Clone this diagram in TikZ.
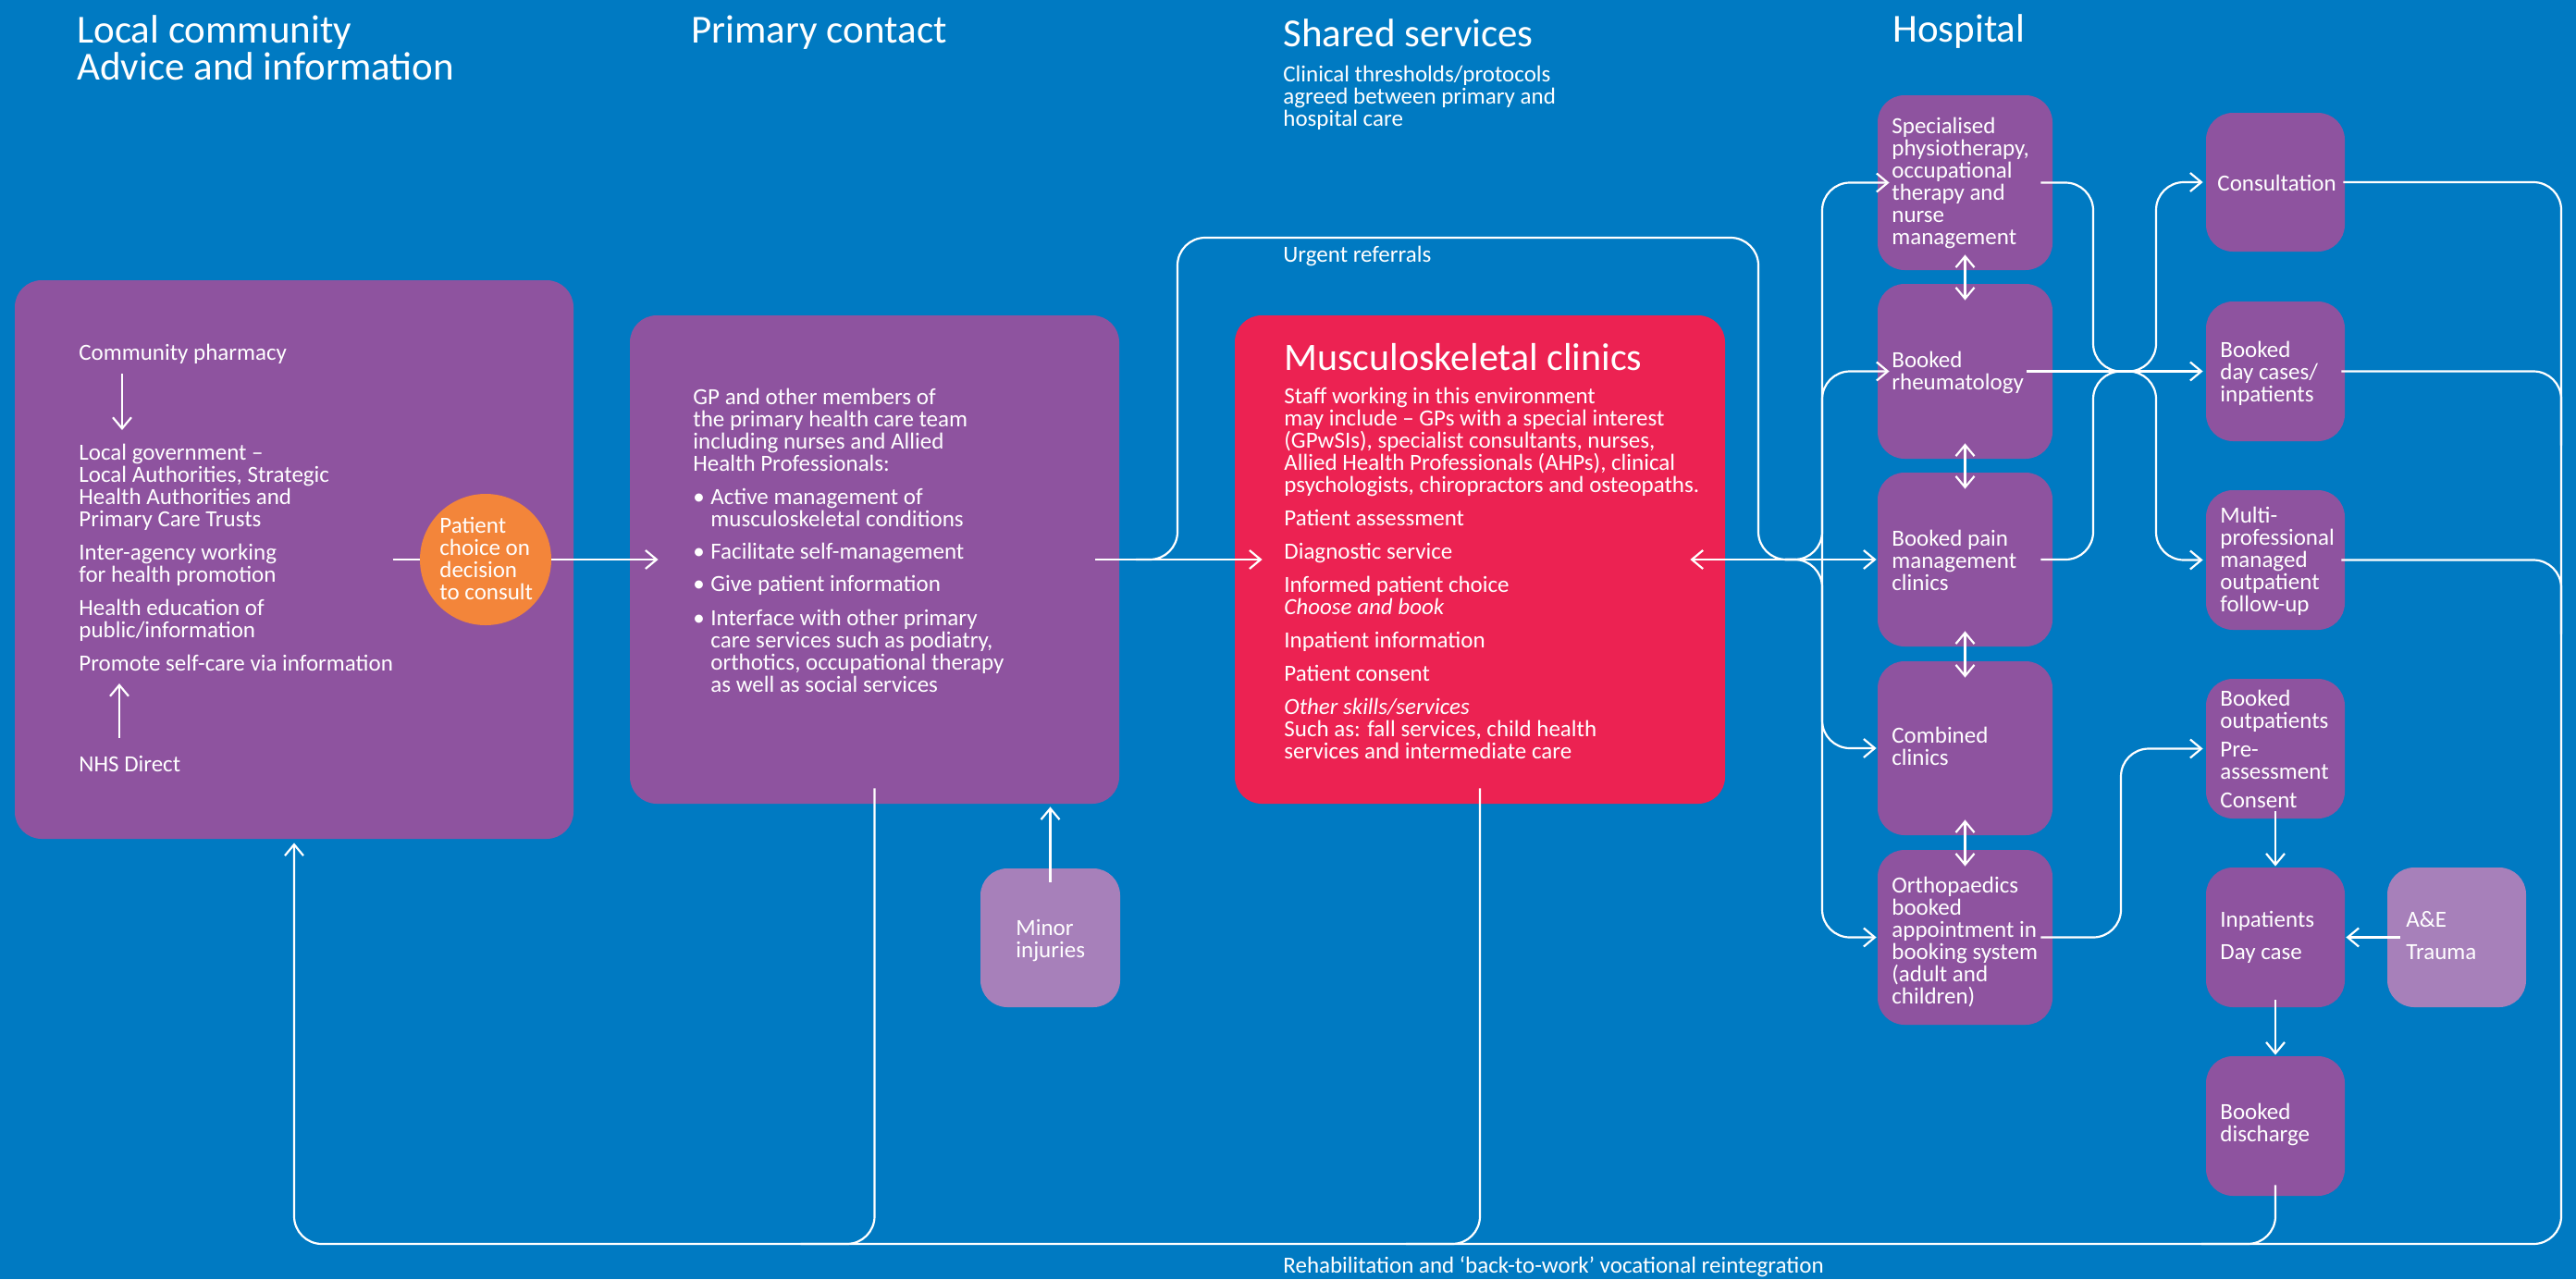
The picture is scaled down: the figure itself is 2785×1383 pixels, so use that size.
\documentclass[tikz,border=0pt]{standalone}
\usepackage{fontspec}
\setmainfont{Carlito}
\usetikzlibrary{arrows.meta,calc,fit}
\definecolor{bgblue}{RGB}{0,122,194}
\definecolor{mpurple}{RGB}{142,83,159}
\definecolor{lpurple}{RGB}{167,128,186}
\definecolor{mred}{RGB}{236,34,82}
\definecolor{morange}{RGB}{243,133,58}
\newcommand\blk[1]{\parbox[t]{300pt}{\raggedright\lineskiplimit=-20pt\lineskip=0pt #1}}
\newcommand\mybul{\makebox[9.5pt][l]{•}}
\newcommand\myind{\hspace*{9.5pt}}
\begin{document}
\begin{tikzpicture}[x=0.5pt,y=-0.5pt,
  pbox/.style={fill=mpurple, rounded corners=14.5pt, inner sep=0pt, draw=none},
  lbox/.style={pbox, fill=lpurple},
  rbox/.style={pbox, fill=mred},
  wline/.style={draw=white, line width=1.1pt},
  rl/.style={wline, rounded corners=15pt},
  warr/.style={wline, -{Straight Barb[length=6pt,width=10pt]}},
  wdarr/.style={wline, {Straight Barb[length=6pt,width=10pt]}-{Straight Barb[length=6pt,width=10pt]}},
  txt/.style={anchor=base west, inner sep=0pt, text=white, font=\fontsize{12.5}{12}\selectfont},
  ttl/.style={txt, font=\fontsize{21.5}{20}\selectfont},
]
\useasboundingbox (0,0) rectangle (2785,1383);
\fill[bgblue] (0,0) rectangle (2785,1383);

% boxes
\node[pbox, fit={(16,303) (620,907)}] (loc) {};
\node[pbox, fit={(681,341) (1210,869)}] (prim) {};
\node[rbox, fit={(1335,341) (1865,869)}] (msk) {};
\node[lbox, fit={(1060,939) (1211,1089)}] (minor) {};
\node[pbox, fit={(2030,103) (2219,292)}] (spec) {};
\node[pbox, fit={(2030,307) (2219,496)}] (rheum) {};
\node[pbox, fit={(2030,511) (2219,699)}] (pain) {};
\node[pbox, fit={(2030,715) (2219,903)}] (comb) {};
\node[pbox, fit={(2030,919) (2219,1108)}] (ortho) {};
\node[pbox, fit={(2385,122) (2535,272)}] (cons) {};
\node[pbox, fit={(2385,326) (2535,477)}] (day) {};
\node[pbox, fit={(2385,530) (2535,681)}] (multi) {};
\node[pbox, fit={(2385,734) (2535,885)}] (outp) {};
\node[pbox, fit={(2385,938) (2535,1089)}] (inp) {};
\node[pbox, fit={(2385,1142) (2535,1293)}] (disc) {};
\node[lbox, fit={(2581,938) (2731,1089)}] (ae) {};

% connectors
\node[circle, fill=morange, minimum size=71pt, inner sep=0pt] (choice) at (525,605) {};
\draw[wline] ($(choice.west)+(-29,0)$) -- (choice.west);
\draw[warr] (choice.east) -- ($(prim.west)+(31,0)$);
\draw[warr] ($(prim.east)+(-26,0)$) -- ($(msk.west)+(30,0)$);

\coordinate (u1) at (1273,257);
\coordinate (u2) at (1901,257);
\draw[rl] ($(u1 |- prim.east)+(-45,0)$) -- (u1 |- prim.east) -- (u1) -- (u2) -- (u2 |- msk.east) -- ++(45,0);

\coordinate (hb) at (1970,605);
\draw[wdarr] ($(msk.east)+(-38,0)$) -- ($(pain.west)+(-1,0)$);
\draw[rl,warr] ($(hb)+(-40,0)$) -- (hb) -- (hb |- spec.west) -- ($(spec.west)+(13,0)$);
\draw[rl,warr] (hb) -- (hb |- rheum.west) -- ($(rheum.west)+(13,0)$);
\draw[rl,warr] ($(hb)+(-40,0)$) -- (hb) -- (hb |- ortho.west) -- ($(ortho.west)+(-1,0)$);
\draw[rl,warr] (hb) -- (hb |- comb.west) -- ($(comb.west)+(-1,0)$);

\draw[wdarr] ($(spec.south)+(0,-17)$) -- ($(rheum.north)+(0,18)$);
\draw[wdarr] ($(rheum.south)+(0,-17)$) -- ($(pain.north)+(0,18)$);
\draw[wdarr] ($(pain.south)+(0,-17)$) -- ($(comb.north)+(0,18)$);
\draw[wdarr] ($(comb.south)+(0,-17)$) -- ($(ortho.north)+(0,18)$);

\coordinate (xl) at (2263,0);
\coordinate (xr) at (2331,0);
\coordinate (xo) at (2293,0);
\draw[rl,warr] ($(spec.east)+(-13,0)$) -- (spec.east -| xl) -- (xl |- rheum.east) -- (xr |- rheum.east) -- (xr |- multi.west) -- ($(multi.west)+(-3,0)$);
\draw[rl,warr] ($(pain.east)+(-13,0)$) -- (pain.east -| xl) -- (xl |- rheum.east) -- (xr |- rheum.east) -- (xr |- cons.west) -- ($(cons.west)+(-3,0)$);
\draw[warr] ($(rheum.east)+(-28,0)$) -- ($(day.west)+(-3,0)$);
\draw[rl,warr] ($(ortho.east)+(-13,0)$) -- (ortho.east -| xo) -- (xo |- outp.west) -- ($(outp.west)+(-3,0)$);

\coordinate (rb) at (2769,0);
\coordinate (bt) at (0,1345);
\draw[rl,warr] ($(cons.east)+(-2,0)$) -- (cons.east -| rb) -- (rb |- bt) -- (loc.south |- bt) -- ($(loc.south)+(0,4)$);
\draw[rl] ($(day.east)+(-4,0)$) -- (day.east -| rb) -- ++(0,80);
\draw[rl] ($(multi.east)+(-4,0)$) -- (multi.east -| rb) -- ++(0,80);
\draw[rl] ($(prim.south)+(0,-17)$) -- (prim.south |- bt) -- ++(-80,0);
\draw[rl] ($(msk.south)+(0,-17)$) -- (msk.south |- bt) -- ++(-80,0);
\draw[rl] ($(disc.south)+(0,-12)$) -- (disc.south |- bt) -- ++(-80,0);

\draw[warr] ($(minor.north)+(0,15)$) -- ($(minor.north |- prim.south)+(0,3)$);
\draw[warr] ($(outp.south)+(0,-8)$) -- ($(inp.north)+(0,-1)$);
\draw[warr] ($(inp.south)+(0,-8)$) -- ($(disc.north)+(0,-1)$);
\draw[warr] ($(ae.west)+(14,0)$) -- ($(inp.east)+(1,0)$);

% titles
\node[ttl] (tloc) at (83,46) {\blk{Local community\\Advice and information}};
\node[ttl] (tprim) at (747,46) {Primary contact};
\node[ttl] (tsh) at (1387,50) {Shared services};
\node[txt] (tclin) at (1387,88) {\blk{Clinical thresholds/protocols\\agreed between primary and\\hospital care}};
\node[ttl] (thosp) at (2046,45) {Hospital};
\node[txt] (turg) at (1387,283) {Urgent referrals};
\node[txt] (trehab) at (1387,1376) {Rehabilitation and ‘back-to-work’ vocational reintegration};

% local box
\node[txt] (cp) at (85,389) {Community pharmacy};
\node[txt] (lg) at (85,497) {\blk{Local government –\\Local Authorities, Strategic\\Health Authorities and\\Primary Care Trusts\\[6pt]Inter-agency working\\for health promotion\\[6pt]Health education of\\public/information\\[6pt]Promote self-care via information}};
\node[txt] (nhs) at (85,834) {NHS Direct};
\draw[warr] ($(cp.base west)+(47,15)$) -- ($(lg.base west)+(47,-32)$);
\draw[warr] ($(nhs.base west)+(44,-36)$) -- ($(nhs.base west)+(44,-95)$);

\node[txt] (tch) at (475,576) {\blk{Patient\\choice on\\decision\\to consult}};

% primary
\node[txt] (tpr) at (749,437) {\blk{GP and other members of\\the primary health care team\\including nurses and Allied\\Health Professionals:\\[6pt]\mybul Active management of\\\myind musculoskeletal conditions\\[5.5pt]\mybul Facilitate self-management\\[5.5pt]\mybul Give patient information\\[6.5pt]\mybul Interface with other primary\\\myind care services such as podiatry,\\\myind orthotics, occupational therapy\\\myind as well as social services}};

% msk
\node[ttl, font=\fontsize{21}{20}\selectfont] (tmsk) at (1388,400) {Musculoskeletal clinics};
\node[txt] (tmskb) at (1388,436) {\blk{Staff working in this environment\\may include – GPs with a special interest\\(GPwSIs), specialist consultants, nurses,\\Allied Health Professionals (AHPs), clinical\\psychologists, chiropractors and osteopaths.\\[6pt]Patient assessment\\[6pt]Diagnostic service\\[6pt]Informed patient choice\\\textit{Choose and book}\\[6pt]Inpatient information\\[6pt]Patient consent\\[6pt]\textit{Other skills/services}\\Such as: fall services, child health\\services and intermediate care}};

\node[txt] (tmin) at (1098,1011) {\blk{Minor\\injuries}};

% hospital
\node[txt] (tspec) at (2045,144) {\blk{Specialised\\physiotherapy,\\occupational\\therapy and\\nurse\\management}};
\node[txt] (trh) at (2045,397) {\blk{Booked\\rheumatology}};
\node[txt] (tpa) at (2045,590) {\blk{Booked pain\\management\\clinics}};
\node[txt] (tco) at (2045,803) {\blk{Combined\\clinics}};
\node[txt] (tor) at (2045,965) {\blk{Orthopaedics\\booked\\appointment in\\booking system\\(adult and\\children)}};
\node[txt] (tcons) at (2397,206) {Consultation};
\node[txt] (tday) at (2400,386) {\blk{Booked\\day cases/\\inpatients}};
\node[txt] (tmul) at (2400,565) {\blk{Multi-\\professional\\managed\\outpatient\\follow-up}};
\node[txt] (tout) at (2400,763) {\blk{Booked\\outpatients\\[3.5pt]Pre-\\assessment\\[3.5pt]Consent}};
\node[txt] (tinp) at (2400,1002) {\blk{Inpatients\\[5.5pt]Day case}};
\node[txt] (tdis) at (2400,1210) {\blk{Booked\\discharge}};
\node[txt] (tae) at (2601,1002) {\blk{A\&E\\[5.5pt]Trauma}};
\end{tikzpicture}
\end{document}
